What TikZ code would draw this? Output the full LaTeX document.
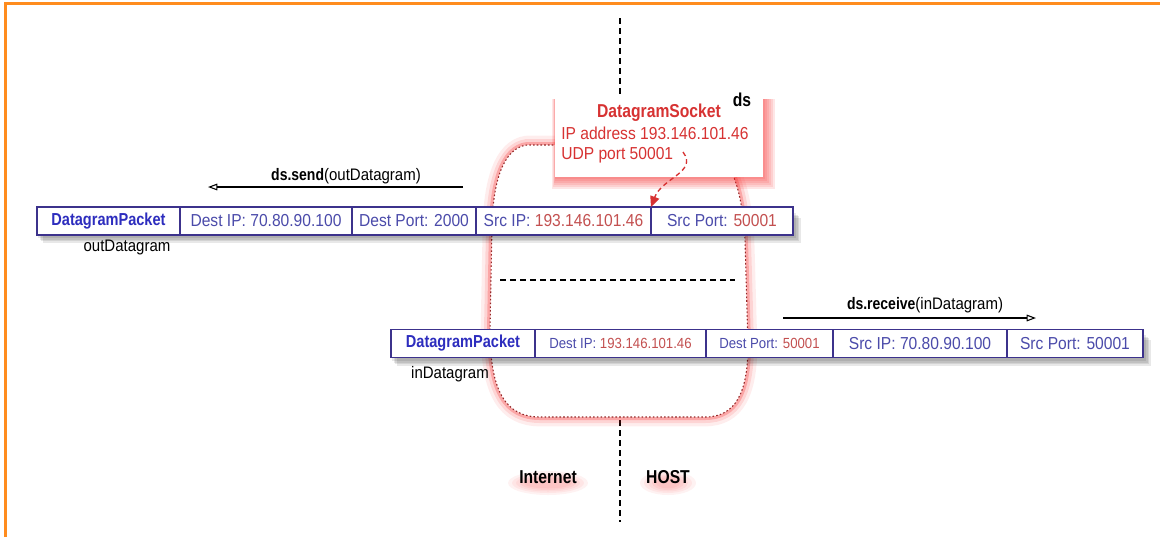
\documentclass[tikz,border=0pt]{standalone}
\usepackage{fontspec}
\setmainfont{Liberation Sans}[FakeStretch=0.9,BoldFeatures={FakeStretch=0.84}]
\usetikzlibrary{arrows.meta}
\definecolor{orng}{RGB}{255,140,30}
\definecolor{pktline}{RGB}{60,50,140}
\definecolor{pkttext}{RGB}{75,75,170}
\definecolor{pkttitle}{RGB}{45,45,190}
\definecolor{valred}{RGB}{195,80,80}
\definecolor{sockred}{RGB}{215,50,50}
\definecolor{glowred}{RGB}{245,30,30}
\definecolor{dotred}{RGB}{150,40,40}
\newcommand\hostblob{(557,145) -- (527,145) .. controls (502,148) and (493,185) .. (492,225) -- (490,330) .. controls (490,392) and (506,417) .. (540,417) -- (705,417) .. controls (736,417) and (748,392) .. (748,345) -- (745,240) .. controls (743,208) and (739,190) .. (733,175) -- (557,175) -- cycle}
\begin{document}
\begin{tikzpicture}[x=0.75pt,y=-0.75pt,
  cell/.style={draw=pktline, line width=1.1pt, fill=white, minimum height=21pt, inner sep=0pt, outer sep=0pt, anchor=west, text=pkttext, font=\fontsize{13}{15}\selectfont},
  ptitle/.style={cell, text=pkttitle, font=\fontsize{13}{15}\selectfont\bfseries},
  smallcell/.style={cell, font=\fontsize{11}{13}\selectfont},
  lbl/.style={font=\fontsize{12.5}{15}\selectfont, text=black, inner sep=0pt},
  socktext/.style={font=\fontsize{13}{15}\selectfont, text=sockred, inner sep=0pt, anchor=west},
  call/.style={draw=black, line width=0.8pt, -{Triangle[open, length=7pt, width=5pt]}},
  sep/.style={draw=black, line width=0.9pt, dash pattern=on 4.5pt off 3pt},
  region/.style={font=\fontsize{14}{16}\selectfont\bfseries, text=black, inner sep=0pt},
  shade/.style={fill=black, opacity=0.09}
]
\useasboundingbox (0,0) rectangle (1160,537);
% orange frame
\draw[orng, line width=2.2pt] (5.5,537) -- (5.5,3.5) -- (1160,3.5);
% separators
\coordinate (topA) at (620,18);
\coordinate (topB) at (620,95);
\coordinate (botA) at (620,420);
\coordinate (botB) at (620,522);
\draw[sep] (topA) -- (topB);
\draw[sep] (botA) -- (botB);
% host blob with red glow
\draw[glowred, opacity=0.08, line width=14pt, line join=round] \hostblob;
\draw[glowred, opacity=0.12, line width=9pt, line join=round] \hostblob;
\draw[glowred, opacity=0.25, line width=4.5pt, line join=round] \hostblob;
\fill[white] \hostblob;
\draw[dotred, line width=0.8pt, dash pattern=on 1.2pt off 1.6pt] (557,145) -- (527,145) .. controls (502,148) and (493,185) .. (492,225) -- (490,330) .. controls (490,392) and (506,417) .. (540,417) -- (705,417) .. controls (736,417) and (748,392) .. (748,345) -- (745,240) .. controls (743,208) and (739,190) .. (733,175);
% inner dashed separator
\coordinate (hA) at (500,280);
\coordinate (hB) at (735,280);
\draw[sep] (hA) -- (hB);
% socket box with red glow (offset shadow)
\foreach \d in {12,10,8,6,4,2}{
  \fill[glowred, opacity=0.11] (556-\d*0.3,99) rectangle (763+\d,177+\d);
}
\node[fill=white, inner sep=0pt, outer sep=0pt, minimum width=156pt, minimum height=60.75pt] (sock) at (659,136.5) {};
\node[font=\fontsize{14}{16}\selectfont\bfseries, text=sockred, inner sep=0pt] (socktitle) at (659,113) {DatagramSocket};
\node[socktext] (sockip) at (561,133) {IP address 193.146.101.46};
\node[socktext] (sockport) at (561,155) {UDP port 50001};
\node[font=\fontsize{14}{16}\selectfont\bfseries, inner sep=0pt] (ds) at (742,100) {ds};
% packet shadows
\foreach \d in {0,1.5,3,4.5}{
  \fill[shade] (38+\d,213+\d) rectangle (796+\d,238+\d);
  \fill[shade] (392+\d,335+\d) rectangle (1146+\d,361+\d);
}
% outgoing packet
\node[ptitle, minimum width=107.25pt] (p1a) at (37,221) {DatagramPacket};
\node[cell, minimum width=129pt] (p1b) at (p1a.east) {Dest IP: 70.80.90.100};
\node[cell, minimum width=93pt] (p1c) at (p1b.east) {Dest Port: 2000};
\node[cell, minimum width=131.25pt] (p1d) at (p1c.east) {Src IP: \textcolor{valred}{193.146.101.46}};
\node[cell, minimum width=106.5pt] (p1e) at (p1d.east) {Src Port: \textcolor{valred}{50001}};
\node[lbl] (outname) at (127,247) {outDatagram};
% incoming packet
\node[ptitle, minimum width=108pt] (p2a) at (391,343.5) {DatagramPacket};
\node[smallcell, minimum width=128.25pt] (p2b) at (p2a.east) {Dest IP: \textcolor{valred}{193.146.101.46}};
\node[smallcell, minimum width=95.25pt] (p2c) at (p2b.east) {Dest Port: \textcolor{valred}{50001}};
\node[cell, minimum width=130.5pt] (p2d) at (p2c.east) {Src IP: 70.80.90.100};
\node[cell, minimum width=102pt] (p2e) at (p2d.east) {Src Port: 50001};
\node[lbl] (inname) at (450,374) {inDatagram};
% socket binding arrow
\coordinate (arrS) at (683,152);
\draw[sockred, line width=1pt, dash pattern=on 3.5pt off 2.5pt, -{Triangle[length=8pt, width=7pt]}] (arrS) .. controls (698,172) and (662,178) .. (p1d.north east);
% calls
\coordinate (sendS) at (463,187);
\coordinate (sendE) at (208,187);
\draw[call] (sendS) -- (sendE);
\node[lbl] (sendL) at (346,176) {\textbf{ds.send}(outDatagram)};
\coordinate (recvS) at (783,318);
\coordinate (recvE) at (1036,318);
\draw[call] (recvS) -- (recvE);
\node[lbl] (recvL) at (925,305) {\textbf{ds.receive}(inDatagram)};
% region labels with glow
\foreach \rx/\ry in {40/12, 36/10, 32/8.5, 28/7, 24/5.5}{
  \fill[glowred, opacity=0.06] (548,483) ellipse ({\rx*0.75pt} and {\ry*0.75pt});
  \fill[glowred, opacity=0.06] (668,483) ellipse ({(\rx-12)*0.75pt} and {\ry*0.75pt});
}
\node[region] (inet) at (548,477) {Internet};
\node[region] (host) at (668,477) {HOST};
\end{tikzpicture}
\end{document}
